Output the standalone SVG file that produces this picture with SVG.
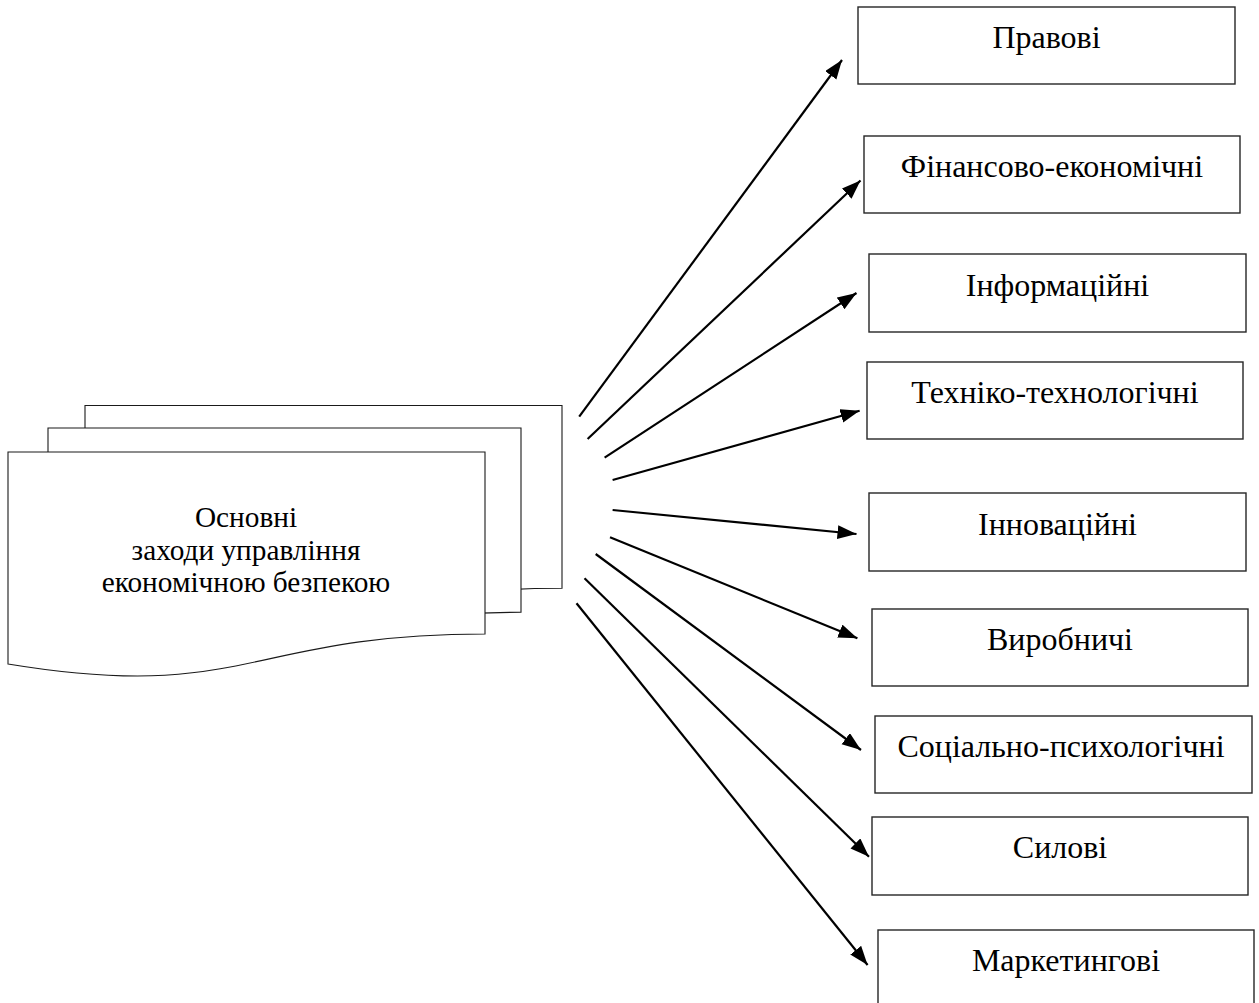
<svg xmlns="http://www.w3.org/2000/svg" width="1259" height="1003" viewBox="0 0 1259 1003">
  <style>
    .box { fill: #ffffff; stroke: #262626; stroke-width: 1.4; }
    .doc { fill: #ffffff; stroke: #1a1a1a; stroke-width: 1.1; }
    .lbl { font-family: "Liberation Serif", "Times New Roman", serif; font-size: 32px; fill: #000; text-anchor: middle; }
    .ctr { font-family: "Liberation Serif", "Times New Roman", serif; font-size: 29.3px; fill: #000; text-anchor: middle; }
    .conn line { stroke: #000; stroke-width: 2.2; marker-end: url(#arrow); }
  </style>
  <defs>
    <marker id="arrow" markerUnits="userSpaceOnUse" markerWidth="22" markerHeight="16" refX="19" refY="7" orient="auto">
      <path d="M0,0 L19,7 L0,14 Z" fill="#000"/>
    </marker>
  </defs>
  <rect width="1259" height="1003" fill="#ffffff"/>

  <g id="main-node">
    <path class="doc" d="M85,405.5 H562 V588.3 C323.5,588.3 323.5,657.6 85,618 Z"/>
    <path class="doc" d="M48,428 H521 V612.3 C284.5,612.3 284.5,682 48,642 Z"/>
    <path class="doc" d="M8,452 H485 V634 C246.5,634 246.5,703.4 8,664 Z"/>
    <text class="ctr" x="246" y="527.3">Основні</text>
    <text class="ctr" x="246" y="560">заходи управління</text>
    <text class="ctr" x="246" y="592">економічною безпекою</text>
  </g>

  <g id="node-pravovi">
    <rect class="box" x="858" y="7" width="377" height="77"/>
    <text class="lbl" x="1046.5" y="48.3">Правові</text>
  </g>
  <g id="node-finansovo">
    <rect class="box" x="864" y="136" width="376" height="77"/>
    <text class="lbl" x="1052" y="177">Фінансово-економічні</text>
  </g>
  <g id="node-informatsiini">
    <rect class="box" x="869" y="254" width="377" height="78"/>
    <text class="lbl" x="1057.5" y="296">Інформаційні</text>
  </g>
  <g id="node-tekhniko">
    <rect class="box" x="867" y="362" width="376" height="77"/>
    <text class="lbl" x="1055" y="402.7">Техніко-технологічні</text>
  </g>
  <g id="node-innovatsiini">
    <rect class="box" x="869" y="493" width="377" height="78"/>
    <text class="lbl" x="1057.5" y="535">Інноваційні</text>
  </g>
  <g id="node-vyrobnychi">
    <rect class="box" x="872" y="609" width="376" height="77"/>
    <text class="lbl" x="1060" y="650">Виробничі</text>
  </g>
  <g id="node-sotsialno">
    <rect class="box" x="875" y="716" width="377" height="77"/>
    <text class="lbl" x="1061" y="757.3">Соціально-психологічні</text>
  </g>
  <g id="node-sylovi">
    <rect class="box" x="872" y="817" width="376" height="78"/>
    <text class="lbl" x="1060" y="858.3">Силові</text>
  </g>
  <g id="node-marketynhovi">
    <rect class="box" x="878" y="930" width="376" height="80"/>
    <text class="lbl" x="1066" y="971">Маркетингові</text>
  </g>

  <g id="connectors" class="conn">
    <line x1="579.2" y1="416.7" x2="842" y2="60"/>
    <line x1="587.6" y1="439" x2="860.5" y2="180.5"/>
    <line x1="604.6" y1="457.7" x2="856.5" y2="293"/>
    <line x1="612.6" y1="480" x2="859.6" y2="410.7"/>
    <line x1="612.6" y1="510" x2="856.5" y2="534"/>
    <line x1="610" y1="537.3" x2="857.4" y2="638.3"/>
    <line x1="595.7" y1="554" x2="861" y2="750"/>
    <line x1="584.5" y1="578.3" x2="869" y2="856.7"/>
    <line x1="576.5" y1="603.3" x2="867.6" y2="965"/>
  </g>
</svg>
